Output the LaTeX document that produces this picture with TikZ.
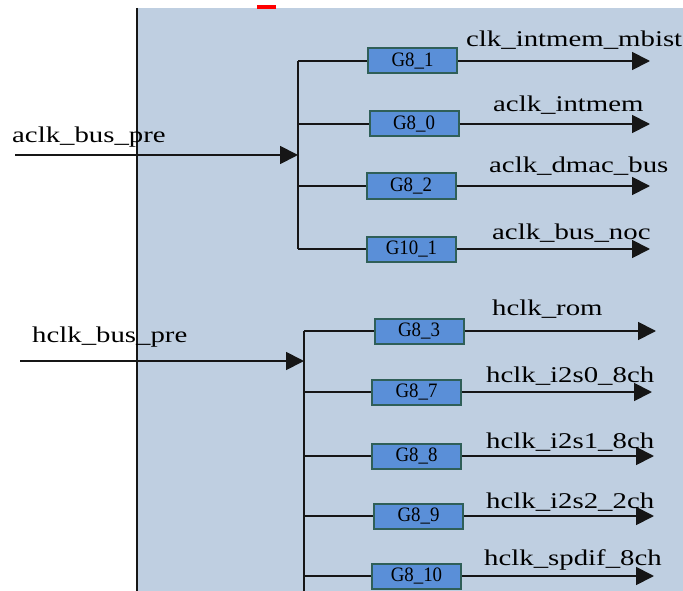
\documentclass[tikz,border=0pt]{standalone}
\usepackage{fontspec}
\setmainfont{Liberation Serif}
\newfontfamily\lblfont[FakeStretch=1.28]{Liberation Serif}
\newfontfamily\gatefont[FakeStretch=0.92]{Liberation Serif}
\usetikzlibrary{arrows.meta}
\definecolor{panel}{HTML}{BFCFE1}
\definecolor{gatefill}{HTML}{5A8FD8}
\definecolor{gateedge}{HTML}{2F5F58}
\definecolor{wire}{HTML}{161616}
\tikzset{
  gate/.style={draw=gateedge, line width=2pt, fill=gatefill, minimum width=89pt, minimum height=25pt, inner sep=0pt, font=\gatefont\fontsize{20.5}{22}\selectfont},
  sig/.style={anchor=base west, inner sep=0pt, font=\lblfont\fontsize{22.5}{26}\selectfont},
  wireline/.style={draw=wire, line width=1.8pt},
  arr/.style={wireline, -{Triangle[length=18pt,width=18pt]}},
}
\begin{document}
\begin{tikzpicture}[x=1pt,y=-1pt]
\useasboundingbox (0,0) rectangle (683,591);
% panel
\fill[panel] (137,8) rectangle (683,591);
\draw[wireline] (137,8) -- (137,591);
\fill[red] (257,5) rectangle (276,9);

% ---------- aclk group ----------
\coordinate (ain) at (15,155);
\coordinate (abus) at (298,155);
\coordinate (a1) at (298,61);
\coordinate (a2) at (298,124);
\coordinate (a3) at (298,186);
\coordinate (a4) at (298,249);
\node[gate] (g81) at (412.5,61) {G8\_1};
\node[gate] (g80) at (414,124) {G8\_0};
\node[gate] (g82) at (411,186) {G8\_2};
\node[gate] (g101) at (411.5,249) {G10\_1};
\coordinate (o1) at (650,61);
\coordinate (o2) at (650,124);
\coordinate (o3) at (650,186);
\coordinate (o4) at (650,249);

\draw[arr] (ain) -- (abus);
\draw[wireline] (a1) -- (a4);
\draw[wireline] (a1) -- (g81.west);
\draw[wireline] (a2) -- (g80.west);
\draw[wireline] (a3) -- (g82.west);
\draw[wireline] (a4) -- (g101.west);
\draw[arr] (g81.east) -- (o1);
\draw[arr] (g80.east) -- (o2);
\draw[arr] (g82.east) -- (o3);
\draw[arr] (g101.east) -- (o4);

\node[sig] (lain) at (12,143) {aclk\_bus\_pre};
\node[sig] (l1) at (466,47) {clk\_intmem\_mbist};
\node[sig] (l2) at (493,112) {aclk\_intmem};
\node[sig] (l3) at (489,173) {aclk\_dmac\_bus};
\node[sig] (l4) at (492,239) {aclk\_bus\_noc};

% ---------- hclk group ----------
\coordinate (hin) at (20,361);
\coordinate (hbus) at (304,361);
\coordinate (h1) at (304,331);
\coordinate (h2) at (304,392);
\coordinate (h3) at (304,456);
\coordinate (h4) at (304,516);
\coordinate (h5) at (304,576);
\coordinate (hend) at (304,591);
\node[gate] (g83) at (419,331) {G8\_3};
\node[gate] (g87) at (416.5,392) {G8\_7};
\node[gate] (g88) at (416.5,456) {G8\_8};
\node[gate] (g89) at (418.5,516) {G8\_9};
\node[gate] (g810) at (416.5,576) {G8\_10};
\coordinate (p1) at (656,331);
\coordinate (p2) at (652,392);
\coordinate (p3) at (654,456);
\coordinate (p4) at (654,516);
\coordinate (p5) at (654,576);

\draw[arr] (hin) -- (hbus);
\draw[wireline] (h1) -- (hend);
\draw[wireline] (h1) -- (g83.west);
\draw[wireline] (h2) -- (g87.west);
\draw[wireline] (h3) -- (g88.west);
\draw[wireline] (h4) -- (g89.west);
\draw[wireline] (h5) -- (g810.west);
\draw[arr] (g83.east) -- (p1);
\draw[arr] (g87.east) -- (p2);
\draw[arr] (g88.east) -- (p3);
\draw[arr] (g89.east) -- (p4);
\draw[arr] (g810.east) -- (p5);

\node[sig] (lhin) at (32,342) {hclk\_bus\_pre};
\node[sig] (m1) at (492,315) {hclk\_rom};
\node[sig] (m2) at (486,382) {hclk\_i2s0\_8ch};
\node[sig] (m3) at (486,448) {hclk\_i2s1\_8ch};
\node[sig] (m4) at (486,508) {hclk\_i2s2\_2ch};
\node[sig] (m5) at (484,565) {hclk\_spdif\_8ch};
\end{tikzpicture}
\end{document}
